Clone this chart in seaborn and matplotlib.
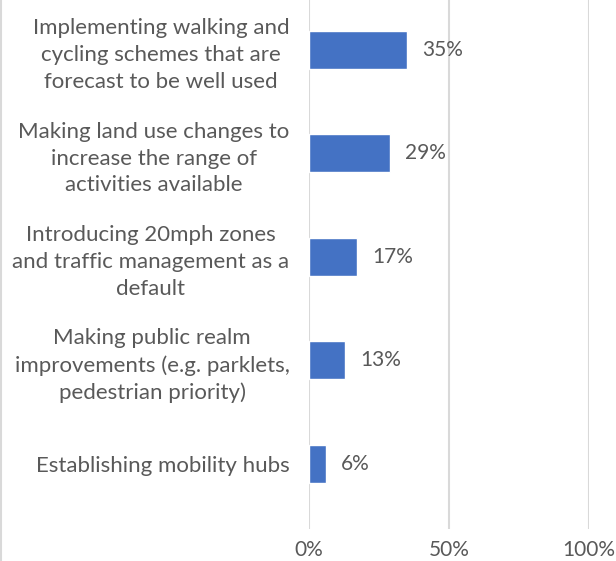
import matplotlib.pyplot as plt
import matplotlib.lines as mlines
import pandas as pd
import seaborn as sns

# data
categories = [
    'Implementing walking and\ncycling schemes that are\nforecast to be well used',
    'Making land use changes to\nincrease the range of\nactivities available',
    'Introducing 20mph zones\nand traffic management as a\ndefault',
    'Making public realm\nimprovements (e.g. parklets,\npedestrian priority)',
    'Establishing mobility hubs',
]
shares = [0.35, 0.29, 0.17, 0.13, 0.06]
x_ticks = [0, 0.5, 1.0]
x_tick_labels = ['0%', '50%', '100%']

df = pd.DataFrame({'category': categories, 'share': shares})

sns.set_style('white')
plt.rcParams['font.family'] = ['Lato', 'DejaVu Sans']
txt = '#595959'

fig = plt.figure(figsize=(6.16, 5.61), dpi=100)
ax = fig.add_axes([309 / 616, 32 / 561, 280 / 616, 529 / 561])

sns.barplot(data=df, x='share', y='category', orient='h', color='#4472C4',
            width=0.37, saturation=1, ax=ax, zorder=3)

ax.set_xlim(0, 1)
ax.set_ylim(4.63, -0.48)
ax.set_xticks(x_ticks)
ax.set_xticklabels(x_tick_labels, fontsize=15, color=txt)
ax.tick_params(axis='x', length=0, pad=8)
ax.tick_params(axis='y', length=0, pad=14)
for lab in ax.get_yticklabels():
    lab.set_fontsize(16)
    lab.set_color(txt)
    lab.set_multialignment('center')
    lab.set_linespacing(1.42)

ax.grid(axis='x', color='#D9D9D9', linewidth=1.5, zorder=0)
ax.grid(axis='y', visible=False)
for s in ax.spines.values():
    s.set_visible(False)
ax.set_xlabel('')
ax.set_ylabel('')

ax.bar_label(ax.containers[0], labels=[f'{v:.0%}' for v in shares],
             padding=11, fontsize=15, color=txt)

# thin border line at the far left of the picture
fig.add_artist(mlines.Line2D([1 / 616, 1 / 616], [0, 1], color='#D9D9D9',
                             linewidth=1.5, transform=fig.transFigure))

fig.savefig('out.png', dpi=100)
